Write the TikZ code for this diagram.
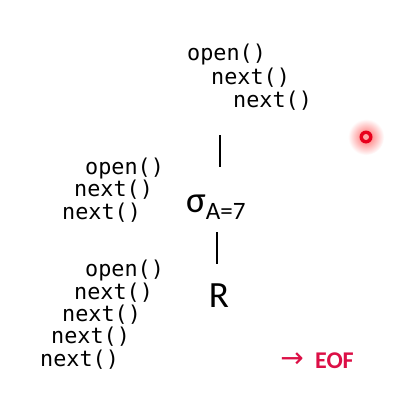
\documentclass[tikz,border=0pt]{standalone}
\usepackage{fontspec}
\setmainfont{Carlito}
\newfontfamily\codefont{DejaVu Sans Mono}
\newfontfamily\symfont{DejaVu Sans}
\definecolor{eofred}{HTML}{DC0F46}
\definecolor{dotred}{HTML}{E8001C}
\begin{document}
\begin{tikzpicture}[x=1pt,y=-1pt,
  code/.style={anchor=west,inner sep=0pt,font=\codefont\fontsize{21.8}{24}\selectfont},
  opsym/.style={inner sep=0pt,font=\fontsize{37}{40}\selectfont},
  edge/.style={line width=2.2pt}]
\useasboundingbox[fill=white] (0,0) rectangle (416,420);
% top group
\node[code] (t1) at (187,54) {open()};
\node[code] (t2) at (211,78) {next()};
\node[code] (t3) at (233,101) {next()};
% middle group
\node[code] (m1) at (85,168) {open()};
\node[code] (m2) at (74,190) {next()};
\node[code] (m3) at (62,213) {next()};
% bottom group
\node[code] (b1) at (85,270) {open()};
\node[code] (b2) at (74,293) {next()};
\node[code] (b3) at (62,315) {next()};
\node[code] (b4) at (51,337) {next()};
\node[code] (b5) at (40,360) {next()};
% operators
\node[opsym,anchor=base west] (sigma) at (186,212) {σ\fontsize{25}{28}\selectfont\raisebox{-7pt}{A=7}};
\node[opsym,anchor=base] (R) at (219,307) {R};
% connectors
\coordinate (l1a) at (220,135);
\coordinate (l1b) at (220,167);
\coordinate (l2a) at (217,232);
\coordinate (l2b) at (217,264);
\draw[edge] (l1a) -- (l1b);
\draw[edge] (l2a) -- (l2b);
% red dot
\shade[inner color=red!60,outer color=white] (366,137) circle (18);
\fill[dotred] (366,137) circle (6.5);
\fill[white!65!red] (366,137) circle (3);
% EOF
\node[anchor=center,inner sep=0pt,text=eofred,font=\symfont\fontsize{28}{30}\selectfont] (arr) at (292,360) {→};
\node[anchor=west,inner sep=0pt,text=eofred,font=\bfseries\fontsize{24}{26}\selectfont] (eof) at (315,361) {EOF};
\end{tikzpicture}
\end{document}
